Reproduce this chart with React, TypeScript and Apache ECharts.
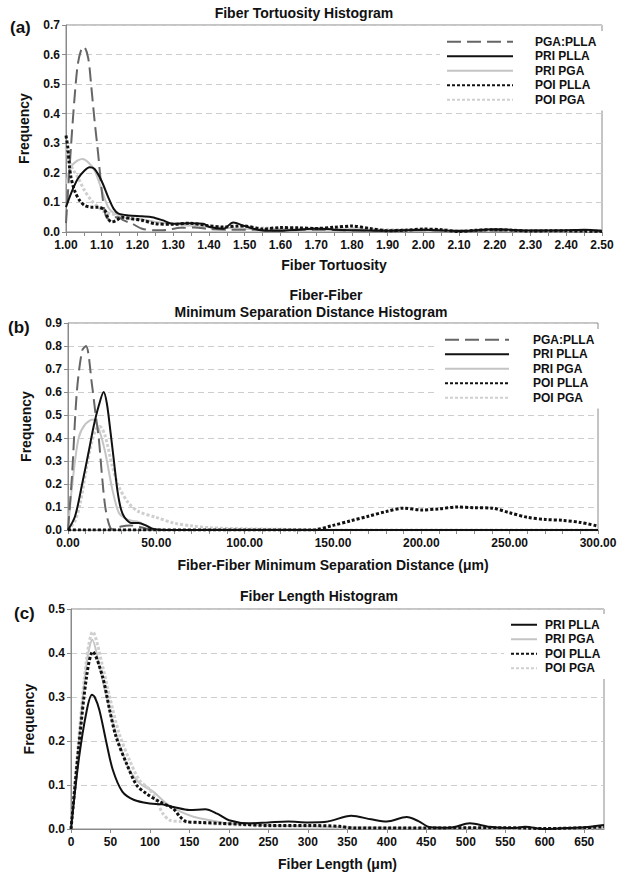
import React, { useEffect, useRef } from "react";
import * as echarts from "echarts";

const FONT = "'Liberation Sans', Arial, Helvetica, sans-serif";

// ---------- Panel (a): Fiber tortuosity ----------
const tortPgaPlla: number[][] = [[1.0,0.03],[1.014,0.29],[1.024,0.455],[1.033,0.567],[1.043,0.618],[1.05,0.626],[1.062,0.589],[1.071,0.489],[1.08,0.376],[1.09,0.264],[1.099,0.152],[1.109,0.065],[1.118,0.045],[1.13,0.05],[1.147,0.05],[1.16,0.04],[1.185,0.028],[1.213,0.011],[1.25,0.006],[1.28,0.007],[1.32,0.014],[1.36,0.015],[1.4,0.01],[1.45,0.008],[1.5,0.008],[1.6,0.005],[1.7,0.008],[1.8,0.005],[1.9,0.005],[2.0,0.006],[2.1,0.004],[2.2,0.005],[2.3,0.004],[2.4,0.005],[2.5,0.004]];
const tortPriPlla: number[][] = [[1.0,0.084],[1.014,0.13],[1.033,0.18],[1.052,0.208],[1.066,0.219],[1.08,0.213],[1.099,0.174],[1.118,0.118],[1.133,0.079],[1.147,0.062],[1.175,0.056],[1.213,0.053],[1.241,0.05],[1.27,0.04],[1.298,0.028],[1.346,0.03],[1.384,0.028],[1.402,0.017],[1.44,0.011],[1.468,0.032],[1.5,0.02],[1.55,0.005],[1.6,0.004],[1.65,0.008],[1.7,0.012],[1.75,0.008],[1.8,0.006],[1.9,0.004],[2.0,0.008],[2.1,0.003],[2.2,0.009],[2.3,0.005],[2.4,0.006],[2.45,0.008],[2.5,0.003]];
const tortPriPga: number[][] = [[1.0,0.163],[1.014,0.22],[1.033,0.242],[1.047,0.247],[1.062,0.236],[1.08,0.208],[1.099,0.146],[1.118,0.084],[1.137,0.062],[1.175,0.045],[1.213,0.042],[1.251,0.034],[1.298,0.028],[1.346,0.022],[1.393,0.017],[1.44,0.015],[1.478,0.011],[1.55,0.01],[1.6,0.01],[1.7,0.008],[1.8,0.01],[1.9,0.006],[2.0,0.006],[2.1,0.004],[2.2,0.006],[2.3,0.004],[2.4,0.003],[2.5,0.006]];
const tortPoiPlla: number[][] = [[1.0,0.326],[1.005,0.287],[1.009,0.23],[1.014,0.185],[1.024,0.14],[1.038,0.107],[1.052,0.09],[1.071,0.084],[1.09,0.084],[1.109,0.073],[1.118,0.045],[1.128,0.034],[1.142,0.04],[1.156,0.05],[1.185,0.045],[1.213,0.04],[1.251,0.028],[1.298,0.026],[1.346,0.03],[1.393,0.022],[1.44,0.017],[1.48,0.02],[1.5,0.02],[1.55,0.01],[1.6,0.015],[1.65,0.014],[1.7,0.012],[1.75,0.016],[1.8,0.02],[1.85,0.012],[1.9,0.004],[1.95,0.006],[2.0,0.01],[2.05,0.008],[2.1,0.002],[2.15,0.006],[2.2,0.008],[2.25,0.006],[2.3,0.003],[2.35,0.004],[2.4,0.004],[2.45,0.003],[2.5,0.002]];
const tortPoiPga: number[][] = [[1.0,0.287],[1.009,0.24],[1.019,0.213],[1.033,0.185],[1.052,0.14],[1.071,0.107],[1.09,0.084],[1.109,0.067],[1.128,0.062],[1.156,0.05],[1.204,0.039],[1.251,0.03],[1.298,0.026],[1.346,0.022],[1.393,0.019],[1.44,0.016],[1.5,0.015],[1.6,0.012],[1.7,0.01],[1.8,0.012],[1.9,0.008],[2.0,0.008],[2.1,0.005],[2.2,0.006],[2.3,0.004],[2.4,0.004],[2.5,0.004]];

// ---------- Panel (b): Fiber-fiber minimum separation distance ----------
const sepPgaPlla: number[][] = [[0,0],[2.3,0.24],[5,0.6],[8,0.78],[10.2,0.8],[13.6,0.63],[15.5,0.51],[17.4,0.4],[19.2,0.24],[21,0.105],[23,0.03],[25,0.003],[30,0.015],[35,0.02],[40,0.015],[45,0.004],[50,0],[100,0],[150,0],[200,0],[250,0],[300,0]];
const sepPriPlla: number[][] = [[0,0],[4,0.06],[8,0.2],[11.7,0.34],[14.5,0.45],[17.4,0.54],[20.2,0.6],[22,0.55],[24,0.43],[26,0.3],[28,0.17],[30,0.09],[32,0.055],[36,0.03],[40,0.03],[44,0.02],[48,0.005],[55,0],[100,0],[150,0],[200,0],[250,0],[300,0]];
const sepPriPga: number[][] = [[0,0],[2.3,0.19],[6,0.4],[9.8,0.46],[14,0.48],[17.4,0.44],[21,0.34],[25,0.18],[28.7,0.076],[32.5,0.05],[36,0.04],[40,0.035],[44,0.02],[48,0.007],[55,0],[100,0],[150,0],[200,0],[250,0],[300,0]];
const sepPoiPlla: number[][] = [[0,0],[50,0],[100,0],[138,0],[150,0.02],[160,0.04],[170,0.06],[180,0.08],[190,0.095],[200,0.087],[210,0.092],[220,0.1],[230,0.097],[240,0.095],[250,0.075],[260,0.055],[270,0.046],[280,0.042],[290,0.033],[300,0.017]];
const sepPoiPga: number[][] = [[0,0],[4,0.04],[7,0.12],[10,0.25],[13,0.37],[16,0.44],[18,0.45],[21,0.41],[25,0.28],[28.7,0.19],[34,0.12],[40,0.08],[50,0.055],[60,0.03],[70,0.018],[80,0.01],[100,0.005],[120,0.003],[140,0],[200,0],[300,0]];

// ---------- Panel (c): Fiber length ----------
const lenPriPlla: number[][] = [[0,0],[10,0.16],[20,0.27],[26.5,0.305],[30,0.3],[36,0.27],[45,0.195],[53,0.134],[65,0.085],[80,0.066],[100,0.058],[115,0.056],[130,0.05],[150,0.043],[170,0.045],[185,0.035],[200,0.02],[225,0.013],[250,0.015],[275,0.017],[300,0.015],[325,0.017],[355,0.03],[380,0.022],[400,0.017],[425,0.027],[440,0.018],[455,0.004],[480,0.003],[505,0.013],[530,0.005],[560,0.002],[575,0.005],[600,0.0],[625,0.002],[650,0.004],[675,0.009]];
const lenPriPga: number[][] = [[0,0],[10,0.2],[20,0.38],[27,0.43],[36,0.37],[49,0.27],[61,0.195],[74,0.134],[87,0.104],[104,0.085],[121,0.058],[138,0.04],[155,0.028],[176,0.02],[197,0.013],[225,0.01],[250,0.008],[300,0.006],[350,0.004],[400,0.003],[450,0.002],[500,0.002],[550,0.001],[600,0.0],[650,0.002],[675,0.004]];
const lenPoiPlla: number[][] = [[0,0],[10,0.19],[20,0.35],[27.5,0.403],[40,0.346],[49,0.27],[57,0.21],[70,0.15],[83,0.1],[95,0.081],[112,0.062],[129,0.047],[138,0.028],[146,0.017],[163,0.015],[189,0.013],[214,0.011],[250,0.008],[300,0.008],[340,0.006],[360,0.002],[400,0.002],[450,0.002],[500,0.003],[550,0.003],[600,0.001],[650,0.003],[675,0.005]];
const lenPoiPga: number[][] = [[0,0],[10,0.21],[20,0.39],[27.5,0.448],[40,0.37],[49,0.3],[61,0.217],[74,0.157],[87,0.11],[100,0.089],[110,0.058],[116,0.036],[125,0.02],[138,0.017],[160,0.014],[200,0.01],[250,0.006],[300,0.004],[350,0.003],[400,0.002],[450,0.002],[500,0.002],[600,0.001],[675,0.003]];

const legendAB = ["PGA:PLLA", "PRI PLLA", "PRI PGA", "POI PLLA", "POI PGA"];
const legendC = ["PRI PLLA", "PRI PGA", "POI PLLA", "POI PGA"];

const STYLES: Record<string, any> = {
  "PGA:PLLA": { color: "#666666", width: 2, type: [14, 6] },
  "PRI PLLA": { color: "#111111", width: 2, type: "solid" },
  "PRI PGA": { color: "#c4c4c4", width: 2, type: "solid" },
  "POI PLLA": { color: "#111111", width: 3, type: [3, 2] },
  "POI PGA": { color: "#cfcfcf", width: 3, type: [3, 2] },
};

function mkSeries(name: string, data: number[][], idx: number, z: number) {
  const s = STYLES[name];
  return {
    type: "line",
    name,
    data,
    xAxisIndex: idx,
    yAxisIndex: idx,
    symbol: "none",
    smooth: 0.3,
    z,
    lineStyle: { color: s.color, width: s.width, type: s.type, cap: "butt" },
    itemStyle: { color: s.color },
  };
}

const labelStyle = { fontFamily: FONT, fontWeight: "bold", fontSize: 12, color: "#111" };
const nameStyle = { fontFamily: FONT, fontWeight: "bold", fontSize: 14, color: "#111" };
const axisGray = "#8a8a8a";

function xAxisCfg(idx: number, min: number, max: number, interval: number, minorSplit: number, fmt: (v: number) => string, name: string, gap: number, showMax: boolean) {
  return {
    type: "value",
    gridIndex: idx,
    min,
    max,
    interval,
    name,
    nameLocation: "middle",
    nameGap: gap,
    nameTextStyle: nameStyle,
    axisLine: { show: true, onZero: false, lineStyle: { color: axisGray, width: 1 } },
    axisTick: { show: true, length: 4, lineStyle: { color: axisGray } },
    minorTick: { show: minorSplit > 1, splitNumber: minorSplit, length: 4, lineStyle: { color: axisGray } },
    splitLine: { show: false },
    axisLabel: { ...labelStyle, margin: 7, formatter: fmt, showMaxLabel: showMax, showMinLabel: true },
  };
}

function yAxisCfg(idx: number, max: number) {
  return {
    type: "value",
    gridIndex: idx,
    min: 0,
    max,
    interval: 0.1,
    name: "Frequency",
    nameLocation: "middle",
    nameGap: 35,
    nameTextStyle: nameStyle,
    axisLine: { show: true, lineStyle: { color: axisGray, width: 1 } },
    axisTick: { show: true, length: 4, lineStyle: { color: axisGray } },
    splitLine: { show: true, lineStyle: { color: "#cdcdcd", type: [6, 4], width: 1 } },
    axisLabel: { ...labelStyle, margin: 6, formatter: (v: number) => v.toFixed(1) },
  };
}

function legendCfg(data: string[], left: number, top: number, itemWidth: number, textPad: number) {
  return {
    data,
    orient: "vertical",
    left,
    top,
    itemWidth,
    itemHeight: 12,
    itemGap: 1,
    backgroundColor: "#ffffff",
    padding: [4, 8, 4, 6],
    selectedMode: false,
    itemStyle: { opacity: 0, borderWidth: 0 },
    textStyle: { ...labelStyle, lineHeight: 13.5, padding: [0, 0, 0, textPad] },
  };
}

function txt(text: string, x: number, y: number, size: number, align = "center") {
  return {
    type: "text",
    x,
    y,
    silent: true,
    style: {
      text,
      x: 0,
      y: 0,
      fill: "#111",
      font: `bold ${size}px ${FONT}`,
      textAlign: align,
      textVerticalAlign: "middle",
    },
  };
}

export default function App() {
  const ref = useRef<HTMLDivElement>(null);
  useEffect(() => {
    document.body.style.margin = "0";
    if (!ref.current) return;
    const chart = echarts.init(ref.current, undefined, { renderer: "svg" });
    const option: any = {
      animation: false,
      backgroundColor: "#ffffff",
      textStyle: { fontFamily: FONT },
      grid: [
        { left: 66, right: 23, top: 25, height: 207, show: true, borderColor: axisGray, borderWidth: 1, backgroundColor: "transparent" },
        { left: 68, right: 27, top: 323, height: 207, show: true, borderColor: axisGray, borderWidth: 1, backgroundColor: "transparent" },
        { left: 71, right: 21, top: 609, height: 220, show: true, borderColor: axisGray, borderWidth: 1, backgroundColor: "transparent" },
      ],
      xAxis: [
        xAxisCfg(0, 1.0, 2.5, 0.1, 2, (v: number) => v.toFixed(2), "Fiber Tortuosity", 26, true),
        xAxisCfg(1, 0, 300, 50, 5, (v: number) => v.toFixed(2), "Fiber-Fiber Minimum Separation Distance (\u03bcm)", 28, true),
        xAxisCfg(2, 0, 675, 50, 1, (v: number) => String(Math.round(v)), "Fiber Length (\u03bcm)", 28, false),
      ],
      yAxis: [yAxisCfg(0, 0.7), yAxisCfg(1, 0.9), yAxisCfg(2, 0.5)],
      legend: [
        legendCfg(legendAB, 440, 31, 66, 17),
        legendCfg(legendAB, 438, 329, 64, 19),
        legendCfg(legendC, 504, 614, 26, 3),
      ],
      graphic: [
        txt("Fiber Tortuosity Histogram", 304, 13, 14),
        txt("Fiber-Fiber", 326, 295, 14),
        txt("Minimum Separation Distance Histogram", 311, 312, 14),
        txt("Fiber Length Histogram", 319, 596, 14),
        txt("(a)", 10, 27, 17, "left"),
        txt("(b)", 8, 327, 17, "left"),
        txt("(c)", 14, 613, 17, "left"),
      ],
      series: [
        mkSeries("PRI PGA", tortPriPga, 0, 2),
        mkSeries("POI PGA", tortPoiPga, 0, 3),
        mkSeries("PGA:PLLA", tortPgaPlla, 0, 4),
        mkSeries("PRI PLLA", tortPriPlla, 0, 5),
        mkSeries("POI PLLA", tortPoiPlla, 0, 6),

        mkSeries("PRI PGA", sepPriPga, 1, 2),
        mkSeries("POI PGA", sepPoiPga, 1, 3),
        mkSeries("PGA:PLLA", sepPgaPlla, 1, 4),
        mkSeries("PRI PLLA", sepPriPlla, 1, 5),
        mkSeries("POI PLLA", sepPoiPlla, 1, 6),

        mkSeries("PRI PGA", lenPriPga, 2, 2),
        mkSeries("POI PGA", lenPoiPga, 2, 3),
        mkSeries("PRI PLLA", lenPriPlla, 2, 5),
        mkSeries("POI PLLA", lenPoiPlla, 2, 6),
      ],
    };
    chart.setOption(option);
    return () => chart.dispose();
  }, []);
  return <div ref={ref} style={{ width: 625, height: 881 }} />;
}
